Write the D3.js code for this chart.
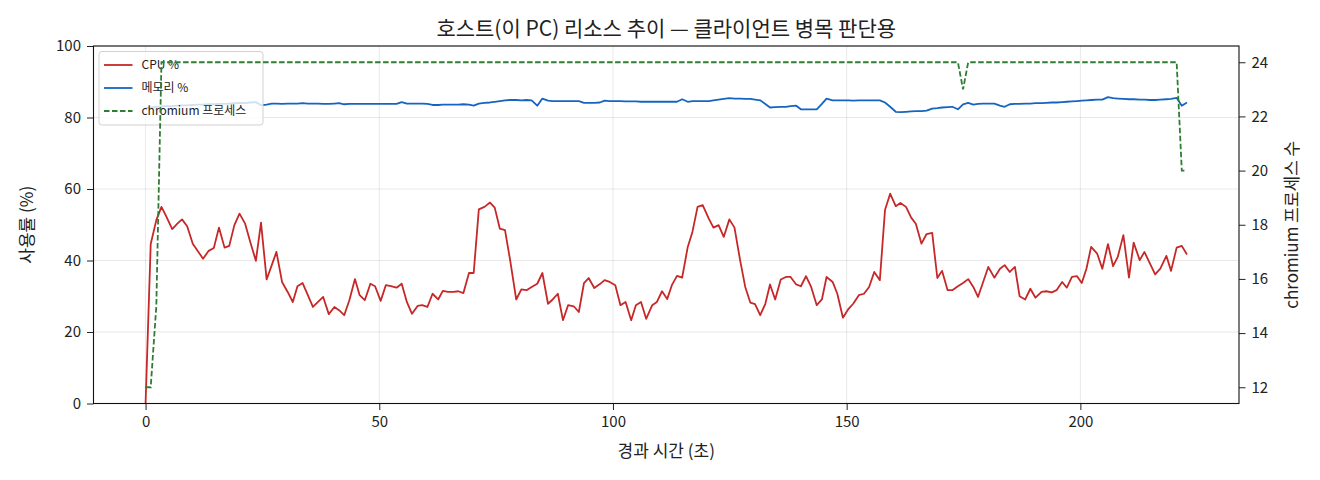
<!DOCTYPE html>
<html>
<head>
<meta charset="utf-8">
<script src="https://cdn.jsdelivr.net/npm/d3@7"></script>
<style>
  html, body { margin: 0; padding: 0; background: #fff; }
  svg text { font-family: "Noto Sans CJK KR", "Noto Sans", sans-serif; fill: #222; }
</style>
</head>
<body>
<div class="svg-container"></div>
<script>
// elapsed seconds of each sample
const elapsed = [
  0.0, 1.1, 2.3, 3.4, 4.4, 5.7, 6.8, 7.8, 8.9, 10.1,
  11.2, 12.3, 13.5, 14.6, 15.7, 16.9, 17.9, 19.0, 20.1, 21.3,
  22.4, 23.6, 24.7, 25.9, 27.0, 28.0, 29.2, 30.4, 31.5, 32.5,
  33.6, 34.7, 35.8, 36.9, 38.0, 39.2, 40.4, 41.4, 42.5, 43.6,
  44.8, 45.8, 46.9, 48.1, 49.1, 50.3, 51.4, 52.5, 53.7, 54.8,
  55.9, 57.0, 58.2, 59.2, 60.3, 61.4, 62.6, 63.6, 64.7, 65.9,
  66.9, 68.0, 69.2, 70.2, 71.3, 72.5, 73.7, 74.7, 75.8, 76.9,
  78.0, 79.3, 80.4, 81.5, 82.6, 83.8, 84.9, 86.1, 87.1, 88.2,
  89.3, 90.4, 91.6, 92.7, 93.8, 94.8, 96.0, 97.2, 98.2, 99.3,
  100.5, 101.6, 102.7, 103.9, 104.9, 106.0, 107.1, 108.4, 109.4, 110.5,
  111.6, 112.6, 113.7, 114.8, 116.0, 117.0, 118.1, 119.2, 120.5, 121.5,
  122.6, 123.7, 124.9, 126.0, 127.2, 128.3, 129.4, 130.4, 131.5, 132.6,
  133.6, 134.7, 135.9, 137.0, 138.0, 139.2, 140.2, 141.3, 142.4, 143.6,
  144.7, 145.7, 147.0, 148.0, 149.2, 150.4, 151.4, 152.6, 153.7, 154.8,
  155.9, 157.1, 158.2, 159.3, 160.5, 161.5, 162.7, 163.8, 164.8, 166.0,
  167.1, 168.3, 169.4, 170.4, 171.6, 172.6, 173.8, 174.9, 176.0, 177.1,
  178.1, 179.2, 180.3, 181.6, 182.8, 183.8, 184.9, 186.0, 187.0, 188.2,
  189.3, 190.4, 191.7, 192.7, 193.9, 194.9, 196.1, 197.1, 198.2, 199.3,
  200.3, 201.3, 202.3, 203.6, 204.7, 205.9, 207.0, 208.0, 209.2, 210.4,
  211.4, 212.7, 213.7, 214.9, 216.0, 217.1, 218.4, 219.4, 220.6, 221.7,
  222.8
];

const cpuPct = [
  0.0, 44.6, 51.3, 55.0, 52.4, 48.8, 50.3, 51.5, 49.6, 44.7,
  42.6, 40.5, 42.7, 43.5, 49.2, 43.6, 44.1, 49.9, 53.1, 50.3,
  45.2, 39.9, 50.6, 34.7, 38.7, 42.4, 34.0, 31.2, 28.4, 32.8,
  33.7, 30.4, 27.0, 28.4, 29.8, 25.0, 27.0, 26.1, 24.7, 28.9,
  34.8, 30.3, 28.9, 33.5, 32.8, 28.7, 33.1, 32.8, 32.4, 33.5,
  28.4, 25.1, 27.3, 27.5, 27.0, 30.7, 29.1, 31.5, 31.2, 31.2,
  31.4, 30.9, 36.5, 36.5, 54.3, 55.0, 56.2, 54.8, 48.9, 48.5,
  40.1, 29.1, 31.9, 31.7, 32.6, 33.5, 36.5, 27.9, 29.1, 30.7,
  23.3, 27.5, 27.2, 25.6, 33.7, 35.1, 32.3, 33.4, 34.5, 34.0,
  33.1, 27.5, 28.4, 23.3, 27.5, 28.4, 23.7, 27.5, 28.4, 31.4,
  29.2, 33.1, 35.7, 35.2, 43.8, 48.0, 55.0, 55.5, 51.7, 49.2,
  49.9, 46.6, 51.5, 49.2, 40.1, 32.6, 28.2, 27.8, 24.7, 27.9,
  33.3, 29.1, 34.7, 35.4, 35.4, 33.3, 32.8, 35.6, 32.6, 27.5,
  29.1, 35.4, 34.0, 30.7, 24.0, 26.5, 27.9, 30.3, 30.7, 32.6,
  36.8, 34.5, 54.1, 58.7, 55.2, 56.1, 55.0, 52.0, 50.3, 44.7,
  47.4, 47.7, 35.1, 37.1, 31.7, 31.7, 32.8, 33.7, 34.8, 32.6,
  29.8, 34.0, 38.2, 35.2, 37.7, 38.7, 36.8, 38.2, 30.0, 29.1,
  32.1, 29.6, 31.2, 31.4, 31.1, 31.7, 34.0, 32.4, 35.4, 35.6,
  33.7, 37.7, 43.8, 41.9, 37.7, 44.6, 38.4, 41.0, 47.1, 35.2,
  45.0, 40.1, 42.4, 39.1, 36.1, 37.7, 41.3, 37.1, 43.6, 44.1,
  41.7
];

const memPct = [
  82.6, 82.8, 83.0, 83.1, 83.2, 83.2, 83.3, 83.4, 83.4, 83.5,
  83.6, 83.6, 83.7, 83.7, 83.8, 83.8, 83.9, 84.0, 84.1, 84.0,
  84.2, 84.3, 83.4, 83.6, 83.9, 83.9, 83.8, 83.9, 83.9, 83.9,
  84.0, 83.9, 83.9, 83.9, 83.8, 83.8, 83.9, 84.0, 83.7, 83.8,
  83.8, 83.8, 83.8, 83.8, 83.8, 83.8, 83.8, 83.8, 83.8, 84.3,
  83.9, 83.9, 83.9, 83.9, 83.8, 83.5, 83.5, 83.6, 83.6, 83.6,
  83.6, 83.7, 83.6, 83.3, 83.9, 84.1, 84.2, 84.4, 84.6, 84.8,
  84.9, 84.9, 84.8, 84.9, 84.8, 83.3, 85.3, 84.7, 84.6, 84.6,
  84.6, 84.6, 84.6, 84.6, 84.1, 84.1, 84.1, 84.2, 84.7, 84.6,
  84.6, 84.6, 84.5, 84.5, 84.5, 84.4, 84.4, 84.4, 84.4, 84.4,
  84.4, 84.4, 84.4, 85.1, 84.4, 84.6, 84.6, 84.6, 84.6, 84.8,
  85.0, 85.2, 85.4, 85.3, 85.3, 85.2, 85.2, 85.0, 84.8, 83.8,
  82.8, 82.9, 83.0, 83.0, 83.2, 83.3, 82.3, 82.3, 82.3, 82.3,
  83.8, 85.3, 84.8, 84.8, 84.8, 84.8, 84.7, 84.8, 84.8, 84.8,
  84.8, 84.8, 84.2, 83.0, 81.6, 81.5, 81.6, 81.7, 81.8, 81.8,
  81.9, 82.5, 82.6, 82.8, 82.9, 83.0, 82.3, 83.7, 84.1, 83.6,
  83.8, 83.9, 83.9, 83.9, 83.3, 83.0, 83.7, 83.8, 83.8, 83.9,
  83.9, 84.0, 84.0, 84.1, 84.2, 84.2, 84.3, 84.4, 84.5, 84.6,
  84.7, 84.8, 84.9, 85.0, 85.0, 85.7, 85.4, 85.3, 85.2, 85.1,
  85.1, 85.0, 85.0, 84.9, 84.9, 85.0, 85.1, 85.2, 85.5, 83.3,
  84.2
];

// chromium process count: only the samples where the count changes
const procTimes = [0.0, 1.1, 2.3, 3.4, 173.8, 174.9, 176.0, 220.6, 221.7, 222.8];
const procCount = [12, 12, 15, 24, 24, 23, 24, 24, 20, 20];

const xTicks = [0, 50, 100, 150, 200];
const yLeftTicks = [0, 20, 40, 60, 80, 100];
const yRightTicks = [12, 14, 16, 18, 20, 22, 24];

const seriesNames = ["CPU %", "메모리 %", "chromium 프로세스"];
const seriesColors = ["#c62828", "#1565c0", "#2e7d32"];

function createGraph() {
    const W = 1320, H = 480;
    const left = 93.5, right = 1239, top = 46, bottom = 403.5;

    const svg = d3.select('.svg-container').append('svg')
        .attr('width', W)
        .attr('height', H);

    const xMin = d3.min(elapsed), xMax = d3.max(elapsed);
    const xPad = (xMax - xMin) * 0.05;
    const xScale = d3.scaleLinear()
        .domain([xMin - xPad, xMax + xPad])
        .range([left, right]);

    const yScale = d3.scaleLinear().domain([0, 100]).range([bottom, top]);

    const pMin = d3.min(procCount), pMax = d3.max(procCount);
    const pPad = (pMax - pMin) * 0.05;
    const y2Scale = d3.scaleLinear()
        .domain([pMin - pPad, pMax + pPad])
        .range([bottom, top]);

    /**
     * grid
     */
    svg.append('g').selectAll('line')
        .data(xTicks).enter().append('line')
        .attr('x1', d => xScale(d)).attr('x2', d => xScale(d))
        .attr('y1', top).attr('y2', bottom)
        .attr('stroke', '#000').attr('stroke-opacity', 0.1).attr('stroke-width', 0.9);

    svg.append('g').selectAll('line')
        .data(yLeftTicks).enter().append('line')
        .attr('x1', left).attr('x2', right)
        .attr('y1', d => yScale(d)).attr('y2', d => yScale(d))
        .attr('stroke', '#000').attr('stroke-opacity', 0.1).attr('stroke-width', 0.9);

    /**
     * cpu + memory lines
     */
    svg.append('clipPath').attr('id', 'plot-clip')
        .append('rect').attr('x', left).attr('y', top)
        .attr('width', right - left).attr('height', bottom - top);

    const line = d3.line()
        .x((d, i) => xScale(elapsed[i]))
        .y(d => yScale(d));

    svg.append('path')
        .datum(cpuPct)
        .attr('d', line)
        .attr('fill', 'none')
        .attr('stroke', seriesColors[0])
        .attr('stroke-width', 1.8)
        .attr('stroke-linejoin', 'round')
        .attr('clip-path', 'url(#plot-clip)');

    svg.append('path')
        .datum(memPct)
        .attr('d', line)
        .attr('fill', 'none')
        .attr('stroke', seriesColors[1])
        .attr('stroke-width', 1.8)
        .attr('stroke-linejoin', 'round')
        .attr('clip-path', 'url(#plot-clip)');

    /**
     * legend (sits under the twin-axis line)
     */
    const legend = svg.append('g').attr('transform', `translate(99, 51.5)`);
    legend.append('rect')
        .attr('width', 164).attr('height', 73.5)
        .attr('rx', 3)
        .attr('fill', '#fff').attr('fill-opacity', 0.8)
        .attr('stroke', '#ccc').attr('stroke-width', 0.9);

    const rows = legend.selectAll('g.row')
        .data(seriesNames).enter().append('g')
        .attr('class', 'row')
        .attr('transform', (d, i) => `translate(0, ${13.5 + i * 23})`);

    rows.append('line')
        .attr('x1', 5).attr('x2', 33.5)
        .attr('stroke', (d, i) => seriesColors[i])
        .attr('stroke-width', 1.8)
        .attr('stroke-dasharray', (d, i) => i === 2 ? '5.5,2.5' : null);

    rows.append('text')
        .attr('x', 42.5).attr('dy', '0.35em')
        .style('font-size', '12px')
        .text(d => d);

    /**
     * chromium process count on the right axis
     */
    const line2 = d3.line()
        .x((d, i) => xScale(procTimes[i]))
        .y(d => y2Scale(d));

    svg.append('path')
        .datum(procCount)
        .attr('d', line2)
        .attr('fill', 'none')
        .attr('stroke', seriesColors[2])
        .attr('stroke-width', 1.8)
        .attr('stroke-dasharray', '5.5,2.5')
        .attr('clip-path', 'url(#plot-clip)');

    /**
     * axes
     */
    const xAxis = svg.append('g')
        .attr('transform', `translate(0, ${bottom})`)
        .call(d3.axisBottom(xScale).tickValues(xTicks).tickSize(6.5).tickPadding(6));

    const yAxis = svg.append('g')
        .attr('transform', `translate(${left}, 0)`)
        .call(d3.axisLeft(yScale).tickValues(yLeftTicks).tickSize(6.5).tickPadding(6));

    const y2Axis = svg.append('g')
        .attr('transform', `translate(${right}, 0)`)
        .call(d3.axisRight(y2Scale).tickValues(yRightTicks).tickSize(6.5).tickPadding(6));

    [xAxis, yAxis, y2Axis].forEach(a => {
        a.select('.domain').remove();
        a.selectAll('.tick line').attr('stroke', '#222').attr('stroke-width', 1);
        a.selectAll('.tick text').style('font-size', '15px').attr('fill', '#222');
    });

    svg.append('rect')
        .attr('x', left).attr('y', top)
        .attr('width', right - left).attr('height', bottom - top)
        .attr('fill', 'none').attr('stroke', '#111').attr('stroke-width', 1.1);

    /**
     * titles
     */
    svg.append('text')
        .attr('x', (left + right) / 2).attr('y', 36)
        .attr('text-anchor', 'middle')
        .style('font-size', '21px')
        .text('호스트(이 PC) 리소스 추이 — 클라이언트 병목 판단용');

    svg.append('text')
        .attr('x', (left + right) / 2).attr('y', 457)
        .attr('text-anchor', 'middle')
        .style('font-size', '17px')
        .text('경과 시간 (초)');

    svg.append('text')
        .attr('transform', `translate(33, ${(top + bottom) / 2}) rotate(-90)`)
        .attr('text-anchor', 'middle')
        .style('font-size', '17px')
        .text('사용률 (%)');

    svg.append('text')
        .attr('transform', `translate(1298, ${(top + bottom) / 2}) rotate(-90)`)
        .attr('text-anchor', 'middle')
        .style('font-size', '17px')
        .text('chromium 프로세스 수');
}

createGraph();
</script>
</body>
</html>
